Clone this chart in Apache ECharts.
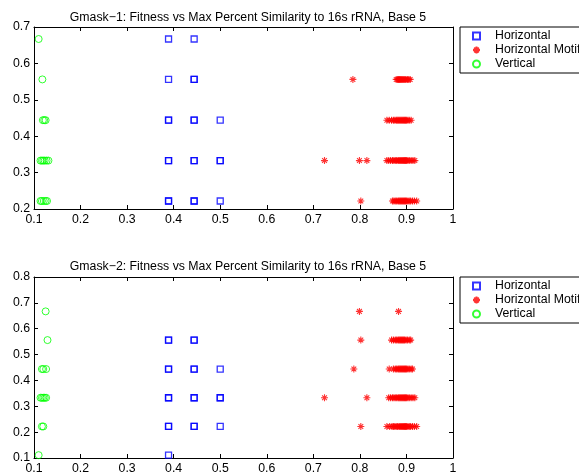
<!DOCTYPE html>
<html><head><meta charset="utf-8">
<script src="https://cdn.jsdelivr.net/npm/echarts@6/dist/echarts.min.js"></script>
<style>html,body{margin:0;padding:0;background:#fff}#c{width:579px;height:476px}</style>
</head><body><div id="c"></div>
<script>
// ---------- DATA ----------
const titles = [
  "Gmask\u22121: Fitness vs Max Percent Similarity to 16s rRNA, Base 5",
  "Gmask\u22122: Fitness vs Max Percent Similarity to 16s rRNA, Base 5"
];
const seriesNames = ["Horizontal", "Horizontal Motif", "Vertical"];
const xTicks = [0.1, 1, 0.1];        // min, max, step
const yTicksTop = [0.2, 0.7, 0.1];
const yTicksBottom = [0.1, 0.8, 0.1];

// Panel 1
const p1Horizontal = [[0.389,0.667],[0.444,0.667],[0.389,0.556],[0.444,0.556],[0.444,0.556],
  [0.389,0.444],[0.389,0.444],[0.444,0.444],[0.444,0.444],[0.5,0.444],
  [0.389,0.333],[0.389,0.333],[0.444,0.333],[0.444,0.333],[0.5,0.333],[0.5,0.333],
  [0.389,0.222],[0.389,0.222],[0.444,0.222],[0.444,0.222],[0.5,0.222]];
const p1Vertical = [[0.110,0.667],[0.118,0.556],[0.119,0.444],[0.122,0.444],[0.125,0.444],
  [0.114,0.333],[0.117,0.333],[0.120,0.333],[0.123,0.333],[0.127,0.333],[0.131,0.333],
  [0.114,0.222],[0.117,0.222],[0.121,0.222],[0.125,0.222],[0.128,0.222]];
const p1Motif556 = [0.785,0.878,0.881,0.883,0.885,0.887,0.889,0.891,0.893,0.895,0.897,0.899,0.902,0.905,0.908];
const p1Motif444 = [0.858,0.863,0.868,0.872,0.875,0.878,0.880,0.882,0.884,0.886,0.888,0.890,0.892,0.894,0.896,0.898,0.900,0.903,0.906,0.910];
const p1Motif333 = [0.724,0.799,0.815,0.858,0.862,0.866,0.870,0.873,0.876,0.879,0.882,0.884,0.886,0.888,0.890,0.892,0.894,0.896,0.898,0.900,0.903,0.906,0.910,0.914,0.918];
const p1Motif222 = [0.802,0.870,0.873,0.876,0.879,0.882,0.884,0.886,0.888,0.890,0.892,0.894,0.896,0.898,0.900,0.903,0.906,0.909,0.913,0.917,0.922];

// Panel 2
const p2Horizontal = [[0.389,0.556],[0.389,0.556],[0.444,0.556],[0.444,0.556],
  [0.389,0.444],[0.389,0.444],[0.444,0.444],[0.444,0.444],[0.5,0.444],
  [0.389,0.333],[0.389,0.333],[0.444,0.333],[0.444,0.333],[0.5,0.333],[0.5,0.333],
  [0.389,0.222],[0.389,0.222],[0.444,0.222],[0.444,0.222],[0.5,0.222],[0.389,0.111]];
const p2Vertical = [[0.125,0.667],[0.129,0.556],[0.117,0.444],[0.120,0.444],[0.126,0.444],
  [0.114,0.333],[0.117,0.333],[0.120,0.333],[0.123,0.333],[0.126,0.333],
  [0.117,0.222],[0.120,0.222],[0.110,0.111]];
const p2Motif667 = [0.799,0.883];
const p2Motif556 = [0.802,0.868,0.872,0.876,0.879,0.882,0.884,0.886,0.888,0.890,0.892,0.894,0.896,0.899,0.902,0.906,0.909];
const p2Motif444 = [0.787,0.863,0.872,0.876,0.879,0.882,0.884,0.886,0.888,0.890,0.892,0.894,0.896,0.898,0.900,0.903,0.906,0.910,0.913];
const p2Motif333 = [0.724,0.815,0.862,0.866,0.870,0.873,0.876,0.879,0.882,0.884,0.886,0.888,0.890,0.892,0.894,0.896,0.898,0.900,0.903,0.906,0.910,0.914,0.918];
const p2Motif222 = [0.802,0.858,0.864,0.869,0.872,0.875,0.878,0.881,0.884,0.886,0.888,0.890,0.892,0.894,0.896,0.898,0.900,0.903,0.906,0.909,0.913,0.917,0.922];

// ---------- BUILD ----------
const pairs = (xs, y) => xs.map(x => [x, y]);
const p1Motif = [].concat(pairs(p1Motif556,0.556), pairs(p1Motif444,0.444), pairs(p1Motif333,0.333), pairs(p1Motif222,0.222));
const p2Motif = [].concat(pairs(p2Motif667,0.667), pairs(p2Motif556,0.556), pairs(p2Motif444,0.444), pairs(p2Motif333,0.333), pairs(p2Motif222,0.222));

const FONT = "Liberation Sans";
const FS = 12.3;
const fmt = v => String(+v.toFixed(1));
const STAR = "path://M0,5L10,5M5,0L5,10M1.6,1.6L8.4,8.4M8.4,1.6L1.6,8.4";

function xAxes(gi) {
  const base = {gridIndex: gi, type: 'value', min: xTicks[0], max: xTicks[1], interval: xTicks[2],
    axisLine: {onZero: false, lineStyle: {color: '#000', width: 1}},
    axisTick: {inside: true, length: 4, lineStyle: {color: '#000'}},
    splitLine: {show: false}};
  return [
    Object.assign({}, base, {position: 'bottom', axisLabel: {color: '#000', fontFamily: FONT, fontSize: FS, margin: 5, formatter: fmt}}),
    Object.assign({}, base, {position: 'top', axisLabel: {show: false}})
  ];
}
function yAxes(gi, t) {
  const base = {gridIndex: gi, type: 'value', min: t[0], max: t[1], interval: t[2],
    axisLine: {onZero: false, lineStyle: {color: '#000', width: 1}},
    axisTick: {inside: true, length: 4, lineStyle: {color: '#000'}},
    splitLine: {show: false}};
  return [
    Object.assign({}, base, {position: 'left', axisLabel: {color: '#000', fontFamily: FONT, fontSize: FS, margin: 4, formatter: fmt}}),
    Object.assign({}, base, {position: 'right', axisLabel: {show: false}})
  ];
}
function seriesFor(gi, hor, motif, vert) {
  const ax = gi * 2;
  return [
    {name: seriesNames[0], type: 'scatter', xAxisIndex: ax, yAxisIndex: ax, data: hor,
     symbol: 'rect', symbolSize: 6, itemStyle: {color: 'rgba(0,0,0,0)', borderColor: '#0000ff', borderWidth: 1.3}},
    {name: seriesNames[1], type: 'scatter', xAxisIndex: ax, yAxisIndex: ax, data: motif,
     symbol: STAR, symbolSize: 7, itemStyle: {color: 'rgba(0,0,0,0)', borderColor: '#ff0000', borderWidth: 1.1}},
    {name: seriesNames[2], type: 'scatter', xAxisIndex: ax, yAxisIndex: ax, data: vert,
     symbol: 'circle', symbolSize: 7, itemStyle: {color: 'rgba(0,0,0,0)', borderColor: '#00ff00', borderWidth: 1}}
  ];
}
function legendAt(top) {
  return {left: 460, top: top, orient: 'vertical', data: seriesNames.slice(),
    backgroundColor: '#fff', borderColor: '#000', borderWidth: 1, padding: [2, 8, 2, 12],
    itemWidth: 7, itemHeight: 7, itemGap: 0,
    textStyle: {color: '#000', fontFamily: FONT, fontSize: FS, lineHeight: 14, padding: [0, 0, 0, 10]}};
}

const chart = echarts.init(document.getElementById('c'), null, {renderer: 'canvas'});
chart.setOption({
  animation: false,
  backgroundColor: '#fff',
  title: [
    {text: titles[0], left: 243, top: 7, textAlign: 'center', textStyle: {fontFamily: FONT, fontSize: FS, fontWeight: 'normal', color: '#000'}},
    {text: titles[1], left: 243, top: 256, textAlign: 'center', textStyle: {fontFamily: FONT, fontSize: FS, fontWeight: 'normal', color: '#000'}}
  ],
  grid: [
    {left: 34, top: 27, width: 419, height: 182},
    {left: 34, top: 277, width: 419, height: 181}
  ],
  legend: [legendAt(27), legendAt(277)],
  xAxis: xAxes(0).concat(xAxes(1)),
  yAxis: yAxes(0, yTicksTop).concat(yAxes(1, yTicksBottom)),
  series: seriesFor(0, p1Horizontal, p1Motif, p1Vertical).concat(seriesFor(1, p2Horizontal, p2Motif, p2Vertical))
});
</script></body></html>
